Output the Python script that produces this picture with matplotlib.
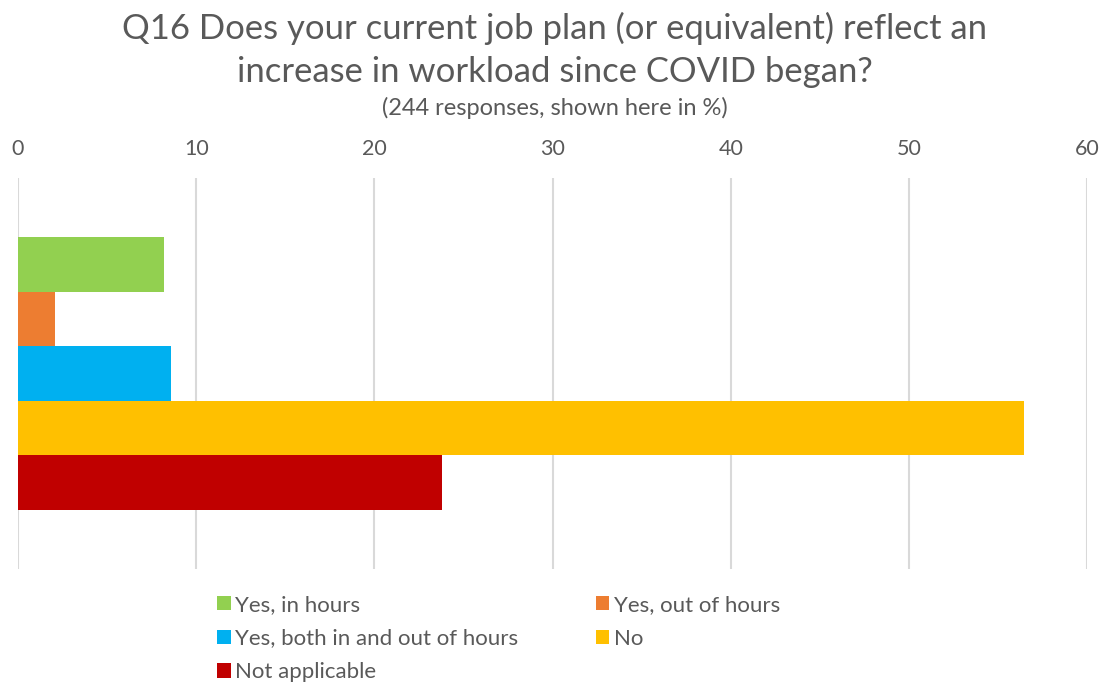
import matplotlib.pyplot as plt
from matplotlib.patches import Patch

plt.rcParams['font.family'] = ['Lato', 'DejaVu Sans']

categories = ["Yes, in hours", "Yes, out of hours", "Yes, both in and out of hours",
              "No", "Not applicable"]
values = [8.2, 2.05, 8.6, 56.45, 23.8]
colors = ["#92D050", "#ED7D31", "#00B0F0", "#FFC000", "#C00000"]
xticks = [0, 10, 20, 30, 40, 50, 60]

grey = "#595959"

fig = plt.figure(figsize=(11.09, 6.86), dpi=100)
ax = fig.add_axes([0.0162, 0.1706, 0.9642, 0.5699])

pos = list(range(len(values)))
ax.barh(pos, values, height=1.0, color=colors, zorder=2)

ax.set_xlim(0, 60)
ax.set_ylim(len(values) - 0.5 + 1.08, -0.5 - 1.08)
ax.set_xticks(xticks)
ax.xaxis.tick_top()
ax.tick_params(axis='x', length=0, pad=14, labelsize=15.5, labelcolor=grey)
ax.set_yticks([])
ax.grid(axis='x', color="#D9D9D9", linewidth=1.5, zorder=0)
for s in ax.spines.values():
    s.set_visible(False)

fig.text(0.5, 0.958, "Q16 Does your current job plan (or equivalent) reflect an",
         ha='center', va='center', fontsize=24.9, color=grey)
fig.text(0.5, 0.895, "increase in workload since COVID began?",
         ha='center', va='center', fontsize=24.9, color=grey)
fig.text(0.5, 0.843, "(244 responses, shown here in %)",
         ha='center', va='center', fontsize=17, color=grey)

# legend fills row by row: reorder for matplotlib's column-major layout
order = [0, 2, 4, 1, 3]
handles = [Patch(facecolor=colors[i]) for i in order]
labels = [categories[i] for i in order]
fig.legend(handles, labels, ncol=2, loc='upper left',
           bbox_to_anchor=(0.196, 0.133), frameon=False, fontsize=16,
           labelcolor=grey, handlelength=0.6, handleheight=0.6,
           handletextpad=0.2, columnspacing=3.5, labelspacing=0.62,
           borderaxespad=0, borderpad=0)

fig.savefig("out.png", dpi=100)
